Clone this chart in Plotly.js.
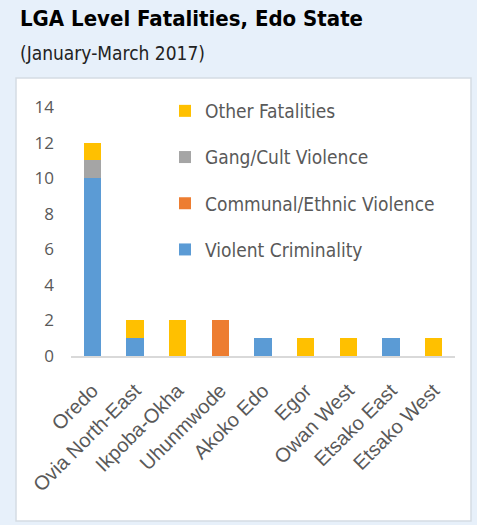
<!DOCTYPE html>
<html>
<head>
<meta charset="utf-8">
<script src="https://cdn.plot.ly/plotly-3.0.1.min.js"></script>
<style>
html,body{margin:0;padding:0;background:#e7f0fa;}
#chart{width:477px;height:525px;}
</style>
</head>
<body>
<div id="chart"></div>
<script>
const categories = ['Oredo','Ovia North-East','Ikpoba-Okha','Uhunmwode','Akoko Edo','Egor','Owan West','Etsako East','Etsako West'];
const violentCriminality = [10,1,0,0,1,0,0,1,0];
const communalEthnic = [0,0,0,2,0,0,0,0,0];
const gangCult = [1,0,0,0,0,0,0,0,0];
const otherFatalities = [1,1,2,0,0,1,1,0,1];
const yTicks = [0,2,4,6,8,10,12,14];

const narrow = '"DejaVu Sans Condensed", "Open Sans", sans-serif';

function mk(name, vals, color, rank){
  return {type:'bar', name:name, x:categories, y:vals, legendgroup:name, legendrank:rank,
    marker:{color:color}, hoverinfo:'x+y+name'};
}
const data = [
  mk('Violent Criminality', violentCriminality, '#5b9bd5', 4),
  mk('Communal/Ethnic Violence', communalEthnic, '#ed7d31', 3),
  mk('Gang/Cult Violence', gangCult, '#a5a5a5', 2),
  mk('Other Fatalities', otherFatalities, '#ffc000', 1)
];

const L=71, R=455, T=107, B=356;
const pw=R-L, ph=B-T;
function px(x){return (x-L)/pw;}
function py(y){return (B-y)/ph;}

const layout = {
  width:477, height:525,
  margin:{l:L, r:477-R, t:T, b:525-B, pad:0},
  paper_bgcolor:'#e7f0fa',
  plot_bgcolor:'rgba(0,0,0,0)',
  barmode:'stack',
  bargap:0.59,
  showlegend:true,
  title:{text:'<b>LGA Level Fatalities, Edo State</b>',
    font:{family:narrow, size:22, color:'#000000'},
    xref:'container', yref:'container', x:20/477, xanchor:'left', y:1-11/525, yanchor:'top'},
  annotations:[{text:'(January-March 2017)', xref:'paper', yref:'paper',
    x:px(18), y:py(40), xanchor:'left', yanchor:'top', showarrow:false,
    font:{family:narrow, size:19, color:'#222222'}}],
  shapes:[{type:'rect', layer:'below', xref:'paper', yref:'paper',
    x0:px(16), x1:px(471), y0:py(521), y1:py(78),
    fillcolor:'#ffffff', line:{color:'#d5dbe3', width:1.5}}],
  legend:{x:px(165), xanchor:'left', y:py(92), yanchor:'top',
    bgcolor:'rgba(0,0,0,0)', traceorder:'grouped', tracegroupgap:18.5,
    font:{family:narrow, size:19, color:'#595959'}},
  xaxis:{type:'category', range:[-0.5,8.5], showgrid:false, zeroline:false,
    showline:true, linecolor:'#d9d9d9', linewidth:2, ticks:'',
    tickangle:-45, ticklabelstandoff:13,
    tickfont:{family:'"Liberation Sans", Arial, sans-serif', size:20, color:'#595959'}},
  yaxis:{range:[0,14], tickvals:yTicks, showgrid:false, zeroline:false,
    showline:false, ticks:'', ticklabelstandoff:16,
    tickfont:{family:'"Open Sans", sans-serif', size:17, color:'#595959'}}
};

Plotly.newPlot('chart', data, layout, {displayModeBar:false, staticPlot:true});
</script>
</body>
</html>
